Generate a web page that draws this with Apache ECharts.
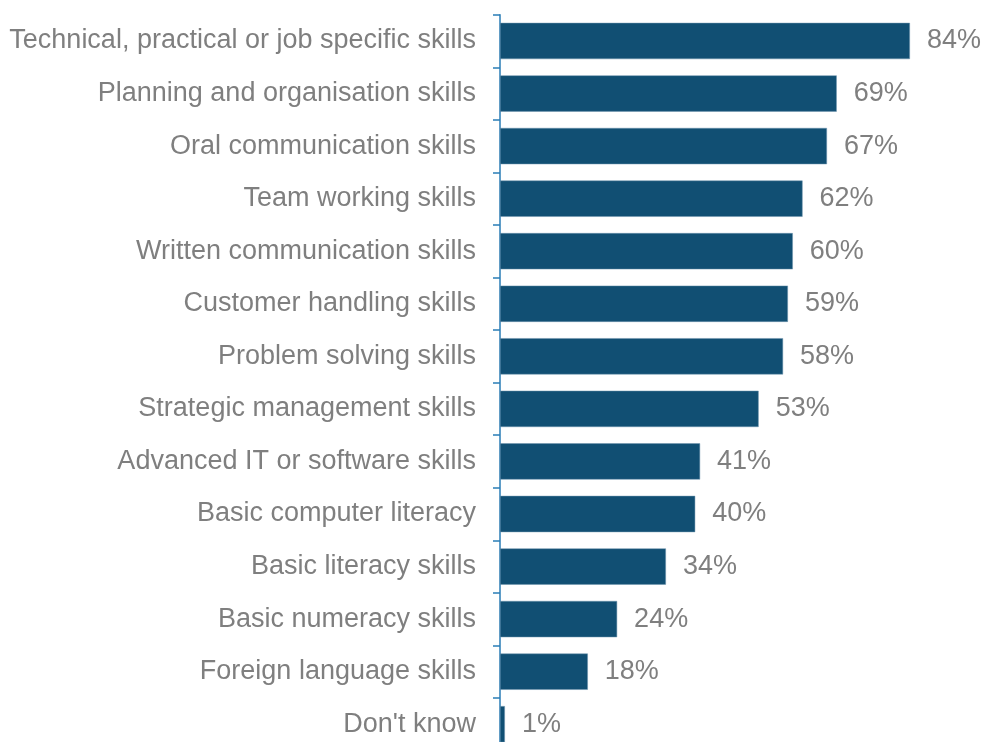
<!DOCTYPE html>
<html><head><meta charset="utf-8">
<script src="https://cdn.jsdelivr.net/npm/echarts@6/dist/echarts.min.js"></script>
<style>html,body{margin:0;padding:0;background:#fff}#c{width:984px;height:742px}</style>
</head><body><div id="c"></div>
<script>
const categories = ["Technical, practical or job specific skills","Planning and organisation skills","Oral communication skills","Team working skills","Written communication skills","Customer handling skills","Problem solving skills","Strategic management skills","Advanced IT or software skills","Basic computer literacy","Basic literacy skills","Basic numeracy skills","Foreign language skills","Don't know"];
const values = [84,69,67,62,60,59,58,53,41,40,34,24,18,1];

const chart = echarts.init(document.getElementById('c'), null, {renderer:'canvas'});
chart.setOption({
  animation:false,
  grid:{left:500, width:488, top:14.7, height:735.8, containLabel:false, outerBoundsMode:'none'},
  xAxis:{type:'value', min:0, max:100, show:false},
  yAxis:{type:'category', data:categories, inverse:true, offset:2,
    axisLine:{show:true, lineStyle:{color:'#2A7DB6', width:1.5}},
    axisTick:{show:true, length:7, lineStyle:{color:'#2A7DB6', width:1.5}},
    axisLabel:{color:'#7F7F7F', fontFamily:'Liberation Sans, Arial, sans-serif', fontSize:27, margin:22}
  },
  series:[{type:'bar', data:values, barCategoryGap:'31%',
    itemStyle:{color:'#114F73', borderColor:'#6E95AE', borderWidth:0.5},
    label:{show:true, position:'right', distance:17, formatter:'{c}%', color:'#7F7F7F', fontFamily:'Liberation Sans, Arial, sans-serif', fontSize:27}
  }]
});
</script></body></html>
